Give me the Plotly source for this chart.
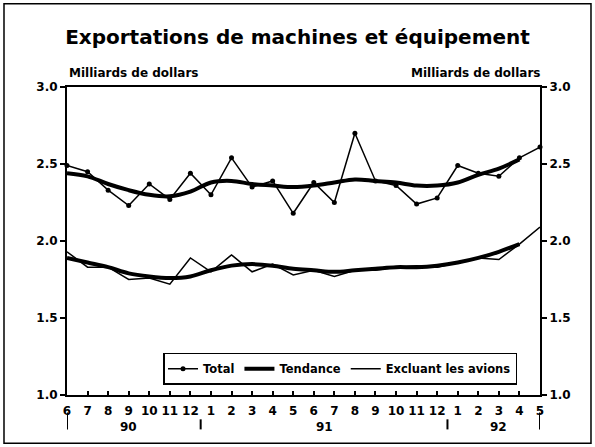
import plotly.graph_objects as go

# ---- data ----
month_labels = ["6", "7", "8", "9", "10", "11", "12", "1", "2", "3", "4", "5",
                "6", "7", "8", "9", "10", "11", "12", "1", "2", "3", "4", "5"]
year_labels = ["90", "91", "92"]

total = [2.49, 2.45, 2.33, 2.23, 2.37, 2.27, 2.44, 2.30, 2.54, 2.35, 2.39, 2.18,
         2.38, 2.25, 2.70, 2.39, 2.36, 2.24, 2.28, 2.49, 2.44, 2.42, 2.54, 2.61]
total_trend = [2.44, 2.42, 2.37, 2.33, 2.30, 2.29, 2.32, 2.38, 2.39, 2.37, 2.36, 2.35,
               2.36, 2.38, 2.40, 2.39, 2.38, 2.36, 2.36, 2.38, 2.43, 2.47, 2.53]
excl = [1.93, 1.83, 1.83, 1.75, 1.76, 1.72, 1.89, 1.80, 1.91, 1.80, 1.85, 1.78,
        1.81, 1.77, 1.81, 1.81, 1.83, 1.84, 1.83, 1.86, 1.89, 1.88, 1.98, 2.09]
excl_trend = [1.89, 1.86, 1.83, 1.79, 1.77, 1.76, 1.77, 1.81, 1.84, 1.85, 1.84, 1.82,
              1.81, 1.80, 1.81, 1.82, 1.83, 1.83, 1.84, 1.86, 1.89, 1.93, 1.98]

x = list(range(len(month_labels)))
FONT = "DejaVu Sans"

fig = go.Figure()
fig.add_trace(go.Scatter(x=x, y=total, mode="lines+markers", name="Total",
                         line=dict(color="black", width=1.5),
                         marker=dict(color="black", size=5), cliponaxis=False))
fig.add_trace(go.Scatter(x=x[:len(total_trend)], y=total_trend, mode="lines", name="Tendance",
                         line=dict(color="black", width=4, shape="spline"),
                         legendgroup="t"))
fig.add_trace(go.Scatter(x=x, y=excl, mode="lines", name="Excluant les avions",
                         line=dict(color="black", width=1.5), cliponaxis=False))
fig.add_trace(go.Scatter(x=x[:len(excl_trend)], y=excl_trend, mode="lines", name="Tendance",
                         line=dict(color="black", width=4, shape="spline"),
                         legendgroup="t", showlegend=False))

fig.update_layout(
    width=595, height=447,
    margin=dict(l=67, r=55, t=87, b=51.5, autoexpand=False),
    paper_bgcolor="white", plot_bgcolor="white",
    font=dict(family=FONT, color="black", size=12, weight="bold"),
    title=dict(text="Exportations de machines et équipement", xref="container", x=0.5,
               xanchor="center", yref="container", y=0.917, yanchor="middle",
               font=dict(family=FONT, size=20, weight="bold", color="black")),
    xaxis=dict(range=[0, 23], tickvals=x, ticktext=month_labels, ticks="inside", ticklen=4,
               tickwidth=1.5, tickcolor="black", showline=True, linecolor="black", linewidth=2,
               mirror=True, showgrid=False, zeroline=False, ticklabelstandoff=4,
               tickfont=dict(family=FONT, size=12, weight="bold")),
    yaxis=dict(range=[1, 3], dtick=0.5, tickformat=".1f", ticks="outside", ticklen=5,
               tickwidth=1.5, tickcolor="black", showline=True, linecolor="black", linewidth=2,
               showgrid=False, zeroline=False,
               tickfont=dict(family=FONT, size=12, weight="bold")),
    yaxis2=dict(range=[1, 3], dtick=0.5, tickformat=".1f", overlaying="y", side="right",
                ticks="outside", ticklen=5, tickwidth=1.5, tickcolor="black", showline=True,
                linecolor="black", linewidth=2, showgrid=False, zeroline=False,
                tickfont=dict(family=FONT, size=12, weight="bold")),
    legend=dict(orientation="h", x=0.203, y=0.1375, xanchor="left", yanchor="top",
                bgcolor="white", bordercolor="black", borderwidth=1.5,
                font=dict(family=FONT, size=11.5, weight="bold"), itemwidth=30,
                tracegroupgap=0),
    showlegend=True,
)

# invisible trace to activate the right axis
fig.add_trace(go.Scatter(x=[0], y=[1], yaxis="y2", mode="markers",
                         marker=dict(opacity=0), showlegend=False, hoverinfo="skip"))

# axis-titles
fig.add_annotation(text="Milliards de dollars", xref="paper", yref="paper", x=0, y=1.047,
                   xanchor="left", yanchor="middle", showarrow=False,
                   font=dict(family=FONT, size=12, weight="bold"))
fig.add_annotation(text="Milliards de dollars", xref="paper", yref="paper", x=1.004, y=1.047,
                   xanchor="right", yanchor="middle", showarrow=False,
                   font=dict(family=FONT, size=12, weight="bold"))

# year labels
for lab, xp in zip(year_labels, [3, 12.5, 21]):
    fig.add_annotation(text=lab, xref="x", yref="paper", x=xp, y=-0.105,
                       xanchor="center", yanchor="middle", showarrow=False,
                       font=dict(family=FONT, size=12, weight="bold"))

# year separators
for xs, y0 in [(0, -0.0566), (6.5, -0.079), (18.5, -0.079), (23, -0.0566)]:
    fig.add_shape(type="line", xref="x", yref="paper", x0=xs, x1=xs, y0=y0, y1=-0.1117,
                  line=dict(color="black", width=2))

# outer frame
fig.add_shape(type="rect", xref="paper", yref="paper", x0=-0.1332, x1=1.1078,
              y0=-0.157, y1=1.270, line=dict(color="black", width=1.5))

fig.write_html("out.html", config={"displayModeBar": False},
               post_script="document.body.style.margin='0';document.body.style.overflow='hidden';")
